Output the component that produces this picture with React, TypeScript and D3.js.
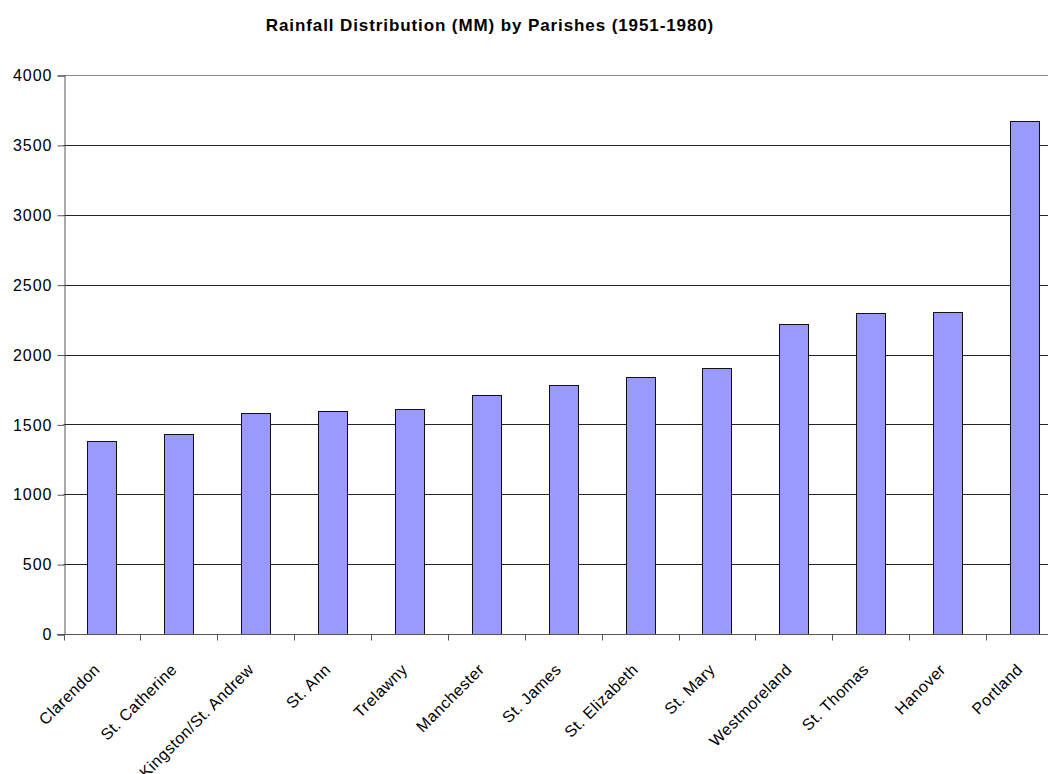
import React, { useRef, useEffect } from "react";
import * as d3 from "d3";

const parishes = [
  "Clarendon",
  "St. Catherine",
  "Kingston/St. Andrew",
  "St. Ann",
  "Trelawny",
  "Manchester",
  "St. James",
  "St. Elizabeth",
  "St. Mary",
  "Westmoreland",
  "St. Thomas",
  "Hanover",
  "Portland",
];
const rainfall = [1378, 1428, 1579, 1598, 1607, 1708, 1785, 1837, 1906, 2218, 2298, 2306, 3670];
const yTicks = [0, 500, 1000, 1500, 2000, 2500, 3000, 3500, 4000];

const FONT = "Arial, 'Liberation Sans', sans-serif";

const App = () => {
  const svgRef = useRef<SVGSVGElement>(null);

  useEffect(() => {
    document.body.style.margin = "0";
    const svg = d3.select(svgRef.current);
    svg.selectAll("*").remove();

    const left = 63.5;
    const right = 1063; // plot runs past the window edge, as in the picture
    const top = 75;
    const bottom = 634;

    const x = d3.scaleBand().domain(parishes).range([left, right]).padding(0);
    const y = d3.scaleLinear().domain([0, 4000]).range([bottom, top]);
    const barW = x.bandwidth() * 0.38;

    // title
    svg
      .append("text")
      .attr("x", 490)
      .attr("y", 31)
      .attr("text-anchor", "middle")
      .attr("font-family", FONT)
      .attr("font-weight", "bold")
      .attr("font-size", 17)
      .attr("letter-spacing", 0.9)
      .text("Rainfall Distribution (MM) by Parishes (1951-1980)");

    // gridlines
    svg
      .append("g")
      .selectAll("line")
      .data(yTicks.filter((t) => t > 0))
      .join("line")
      .attr("x1", left)
      .attr("x2", right)
      .attr("y1", (d) => Math.round(y(d)) + 0.5)
      .attr("y2", (d) => Math.round(y(d)) + 0.5)
      .attr("stroke", (d) => (d === 4000 ? "#8a8a8a" : "#222"))
      .attr("stroke-width", 1);

    // bars
    svg
      .append("g")
      .selectAll("rect")
      .data(rainfall)
      .join("rect")
      .attr("x", (d, i) => Math.round(x(parishes[i])! + x.bandwidth() / 2 - barW / 2) + 0.5)
      .attr("y", (d) => Math.round(y(d)) + 0.5)
      .attr("width", Math.round(barW))
      .attr("height", (d) => Math.round(y(0)) - Math.round(y(d)))
      .attr("fill", "#9999ff")
      .attr("stroke", "#111")
      .attr("stroke-width", 1);

    // y axis
    const yAxis = d3
      .axisLeft(y)
      .tickValues(yTicks)
      .tickSize(7)
      .tickPadding(5)
      .tickFormat((d) => String(d));
    const gy = svg
      .append("g")
      .attr("transform", `translate(${Math.round(left) + 0.5},0.5)`)
      .call(yAxis);
    gy.select(".domain").attr("stroke", "#555");
    gy.selectAll(".tick line").attr("stroke", "#555");
    gy.selectAll(".tick text")
      .attr("font-family", FONT)
      .attr("font-size", 16)
      .attr("letter-spacing", 1)
      .attr("fill", "#000");

    // x axis: ticks at category boundaries
    const gx = svg.append("g").attr("transform", `translate(0,${Math.round(bottom) + 0.5})`);
    gx.append("line")
      .attr("x1", Math.round(left) - 7)
      .attr("x2", right)
      .attr("stroke", "#555");
    gx.selectAll("line.tk")
      .data(parishes)
      .join("line")
      .attr("class", "tk")
      .attr("x1", (d) => Math.round(x(d)!) + 0.5)
      .attr("x2", (d) => Math.round(x(d)!) + 0.5)
      .attr("y1", 0)
      .attr("y2", 6)
      .attr("stroke", "#555");
    gx.selectAll("text")
      .data(parishes)
      .join("text")
      .attr("font-family", FONT)
      .attr("font-size", 16)
      .attr("letter-spacing", 0.5)
      .attr("text-anchor", "end")
      .attr("transform", (d) => `translate(${x(d)! + x.bandwidth() / 2 - 1},36) rotate(-45)`)
      .text((d) => d);
  }, []);

  return <svg ref={svgRef} width={1048} height={774} style={{ display: "block", background: "#fff" }} />;
};

export default App;
